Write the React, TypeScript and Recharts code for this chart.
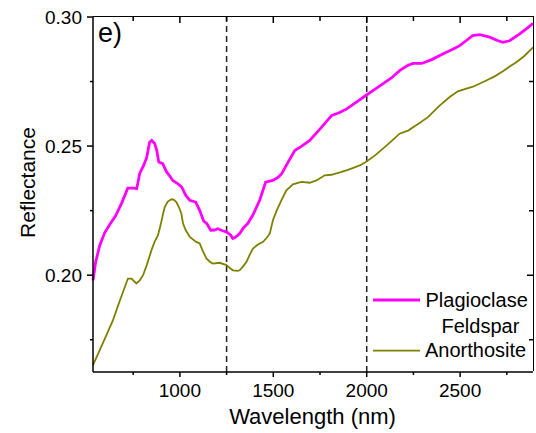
import React from 'react';
import { LineChart, Line, XAxis, YAxis, ReferenceLine, Legend } from 'recharts';

// Plagioclase Feldspar spectrum
const plagWl = [535, 549, 571, 598, 624, 656, 689, 721, 753, 769, 785, 806, 822, 838, 849, 865, 876, 887, 908, 929, 945, 962, 988, 1010, 1031, 1053, 1085, 1106, 1127, 1144, 1165, 1186, 1202, 1229, 1251, 1272, 1283, 1299, 1320, 1342, 1363, 1390, 1427, 1459, 1497, 1524, 1545, 1577, 1615, 1652, 1695, 1748, 1813, 1855, 1893, 1941, 1995, 2043, 2086, 2134, 2176, 2214, 2246, 2294, 2348, 2407, 2455, 2498, 2535, 2567, 2605, 2658, 2696, 2728, 2765, 2819, 2856, 2890];
const plagR = [0.198, 0.205, 0.2115, 0.2165, 0.2195, 0.223, 0.228, 0.2337, 0.2337, 0.2335, 0.2394, 0.2425, 0.2455, 0.2515, 0.2522, 0.251, 0.2485, 0.2438, 0.2432, 0.240, 0.2385, 0.2367, 0.2355, 0.2341, 0.231, 0.229, 0.2283, 0.2251, 0.221, 0.220, 0.2174, 0.2175, 0.218, 0.2172, 0.2167, 0.2155, 0.2142, 0.2148, 0.2161, 0.2185, 0.220, 0.2232, 0.229, 0.236, 0.2367, 0.2378, 0.2393, 0.2435, 0.2483, 0.250, 0.2522, 0.2565, 0.2619, 0.263, 0.2644, 0.2668, 0.2696, 0.272, 0.2741, 0.2765, 0.2792, 0.281, 0.282, 0.282, 0.2835, 0.2857, 0.2873, 0.2889, 0.291, 0.2928, 0.2932, 0.2922, 0.291, 0.2902, 0.2908, 0.2935, 0.2955, 0.2975];

// Anorthosite spectrum
const anorWl = [535, 571, 608, 642, 678, 722, 741, 767, 785, 803, 823, 848, 865, 883, 897, 910, 919, 935, 955, 967, 981, 994, 1008, 1017, 1031, 1053, 1088, 1106, 1122, 1142, 1160, 1177, 1213, 1249, 1267, 1284, 1309, 1320, 1336, 1356, 1374, 1391, 1416, 1445, 1465, 1481, 1498, 1518, 1543, 1570, 1605, 1650, 1695, 1731, 1775, 1811, 1856, 1891, 1925, 1962, 1995, 2043, 2087, 2134, 2176, 2221, 2273, 2328, 2390, 2444, 2488, 2529, 2569, 2640, 2685, 2729, 2765, 2801, 2845, 2890];
const anorR = [0.1652, 0.171, 0.177, 0.1826, 0.190, 0.1987, 0.1987, 0.1968, 0.198, 0.200, 0.204, 0.2097, 0.213, 0.2155, 0.2195, 0.2238, 0.2264, 0.2285, 0.2294, 0.2293, 0.2283, 0.2265, 0.2238, 0.220, 0.2175, 0.2148, 0.2129, 0.2123, 0.2095, 0.2065, 0.2052, 0.2045, 0.2048, 0.2039, 0.2028, 0.2019, 0.2017, 0.2019, 0.2032, 0.2051, 0.208, 0.2103, 0.2118, 0.2129, 0.2145, 0.2161, 0.2213, 0.225, 0.229, 0.2329, 0.2352, 0.2361, 0.2358, 0.2367, 0.2387, 0.2389, 0.2398, 0.2406, 0.2415, 0.2425, 0.2438, 0.2463, 0.249, 0.252, 0.2548, 0.256, 0.2585, 0.2612, 0.2657, 0.269, 0.2712, 0.2722, 0.273, 0.2754, 0.277, 0.279, 0.2808, 0.2825, 0.285, 0.2882];

const xTicks = [750, 1000, 1250, 1500, 1750, 2000, 2250, 2500, 2750];
const xMajor = [1000, 1500, 2000, 2500];
const yTicks = [0.175, 0.2, 0.225, 0.25, 0.275, 0.3];
const yInnerTicks = [0.175, 0.2, 0.225, 0.25, 0.275];
const yMajor = [0.2, 0.25, 0.3];
const xDomain = [535, 2890];
const yDomain = [0.1625, 0.3];
const dashedAt = [1250, 2000];
const seriesNames = ['Plagioclase Feldspar', 'Anorthosite'];
const seriesColors = ['#FF00FF', '#808000'];
const panelLabel = 'e)';
const xTitle = 'Wavelength (nm)';
const yTitle = 'Reflectance';

const FONT = "'Liberation Sans', Arial, sans-serif";
const isMajorX = (v: number) => xMajor.includes(v);
const isMajorY = (v: number) => yMajor.some((m) => Math.abs(m - v) < 1e-9);

const plagData = plagWl.map((w, i) => ({ wl: w, r: plagR[i] }));
const anorData = anorWl.map((w, i) => ({ wl: w, r: anorR[i] }));

// plot box (chart margins / axis sizes)
const PLOT = { left: 93, top: 17, width: 440, height: 355 };

// inward ticks of the top and right frame, in data units (about 6 px major / 4 px minor)
const yPerPx = (yDomain[1] - yDomain[0]) / PLOT.height;
const xPerPx = (xDomain[1] - xDomain[0]) / PLOT.width;
const topTickData: { wl: number; r: number | null }[] = xTicks.flatMap((v) => [
  { wl: v, r: yDomain[1] },
  { wl: v, r: yDomain[1] - (isMajorX(v) ? 6 : 4) * yPerPx },
  { wl: v, r: null },
]);
const rightTickData: { wl: number; r: number | null }[] = yInnerTicks.flatMap((v) => [
  { wl: xDomain[1], r: v },
  { wl: xDomain[1] - (isMajorY(v) ? 6 : 4) * xPerPx, r: v },
  { wl: xDomain[1], r: null },
]);

const BottomTick = (p: any) => {
  const major = isMajorX(p.payload.value);
  return (
    <g>
      <line x1={p.x} x2={p.x} y1={p.y} y2={p.y + (major ? 5 : 3)} stroke="#000" strokeWidth={1.5} />
      {major && (
        <text x={p.x} y={p.y + 25} textAnchor="middle" fontSize={19} fontFamily={FONT} fill="#000">
          {p.payload.value}
        </text>
      )}
    </g>
  );
};
const LeftTick = (p: any) => {
  const major = isMajorY(p.payload.value);
  return (
    <g>
      <line x1={p.x} x2={p.x - (major ? 6 : 3)} y1={p.y} y2={p.y} stroke="#000" strokeWidth={1.5} />
      {major && (
        <text x={p.x - 11} y={p.y + 6.8} textAnchor="end" fontSize={19} fontFamily={FONT} fill="#000">
          {p.payload.value.toFixed(2)}
        </text>
      )}
    </g>
  );
};

const LegendContent = (props: any) => {
  const payload: any[] = props.payload || [];
  const find = (name: string, i: number) => {
    const e = payload.find((q) => q.value === name);
    return { name, color: e && e.color ? e.color : seriesColors[i] };
  };
  const a = find(seriesNames[0], 0);
  const b = find(seriesNames[1], 1);
  const words = a.name.split(' ');
  return (
    <svg width={170} height={80} style={{ overflow: 'visible' }}>
      <line x1={3} x2={50} y1={15} y2={15} stroke={a.color} strokeWidth={2.8} />
      <text x={55.5} y={21.7} fontSize={20} fontFamily={FONT} fill="#000">{words[0]}</text>
      <text x={71.5} y={47.5} fontSize={20} fontFamily={FONT} fill="#000">{words[1]}</text>
      <line x1={3} x2={50} y1={65.7} y2={65.7} stroke={b.color} strokeWidth={1.8} />
      <text x={55} y={72.3} fontSize={20} fontFamily={FONT} fill="#000">{b.name}</text>
    </svg>
  );
};

export default function App() {
  return (
    <div style={{ position: 'absolute', left: 0, top: 0, width: 536, height: 433, background: '#fff', fontFamily: FONT }}>
      <LineChart width={536} height={433} margin={{ top: PLOT.top, right: 536 - PLOT.left - PLOT.width, left: 0, bottom: 0 }}>
        <XAxis
          xAxisId="b"
          dataKey="wl"
          type="number"
          domain={xDomain}
          ticks={xTicks}
          interval={0}
          height={433 - PLOT.top - PLOT.height}
          tickSize={0}
          tickMargin={0}
          tickLine={false}
          tick={<BottomTick />}
          axisLine={{ stroke: '#000', strokeWidth: 1.5 }}
          label={() => (
            <text x={312.5} y={424} textAnchor="middle" fontSize={22} fontFamily={FONT} fill="#000">{xTitle}</text>
          )}
        />
        <YAxis
          yAxisId="l"
          type="number"
          domain={yDomain}
          ticks={yTicks}
          interval={0}
          width={PLOT.left}
          tickSize={0}
          tickMargin={0}
          tickLine={false}
          tick={<LeftTick />}
          axisLine={{ stroke: '#000', strokeWidth: 1.5 }}
          label={() => (
            <text x={35} y={182.5} transform="rotate(-90 35 182.5)" textAnchor="middle" fontSize={21} fontFamily={FONT} fill="#000">{yTitle}</text>
          )}
        />
        {dashedAt.map((v) => (
          <ReferenceLine key={'d' + v} x={v} xAxisId="b" yAxisId="l" stroke="#222" strokeWidth={1.5} strokeDasharray="6 4" />
        ))}
        <Line
          xAxisId="b"
          yAxisId="l"
          data={plagData}
          dataKey="r"
          name={seriesNames[0]}
          type="linear"
          stroke={seriesColors[0]}
          strokeWidth={2.8}
          dot={false}
          isAnimationActive={false}
        />
        <Line
          xAxisId="b"
          yAxisId="l"
          data={anorData}
          dataKey="r"
          name={seriesNames[1]}
          type="linear"
          stroke={seriesColors[1]}
          strokeWidth={1.8}
          dot={false}
          isAnimationActive={false}
        />
        <Line
          xAxisId="b"
          yAxisId="l"
          data={topTickData}
          dataKey="r"
          name="topTicks"
          type="linear"
          stroke="#000"
          strokeWidth={1.5}
          dot={false}
          activeDot={false}
          legendType="none"
          isAnimationActive={false}
        />
        <Line
          xAxisId="b"
          yAxisId="l"
          data={rightTickData}
          dataKey="r"
          name="rightTicks"
          type="linear"
          stroke="#000"
          strokeWidth={1.5}
          dot={false}
          activeDot={false}
          legendType="none"
          isAnimationActive={false}
        />
        <Legend
          layout="vertical"
          align="center"
          verticalAlign="middle"
          content={<LegendContent />}
          wrapperStyle={{ position: 'absolute', left: 370, top: 285, width: 170, height: 80 }}
        />
      </LineChart>
      {/* top and right frame of the plot box */}
      <div
        style={{
          position: 'absolute',
          left: PLOT.left,
          top: PLOT.top - 0.75,
          width: PLOT.width + 0.75,
          height: PLOT.height,
          borderTop: '1.5px solid #000',
          borderRight: '1.5px solid #000',
          boxSizing: 'border-box',
          pointerEvents: 'none',
        }}
      />
      <div
        style={{ position: 'absolute', left: 98, top: 18, fontSize: 27, fontFamily: FONT, lineHeight: '30px', color: '#000' }}
      >
        {panelLabel}
      </div>
    </div>
  );
}
